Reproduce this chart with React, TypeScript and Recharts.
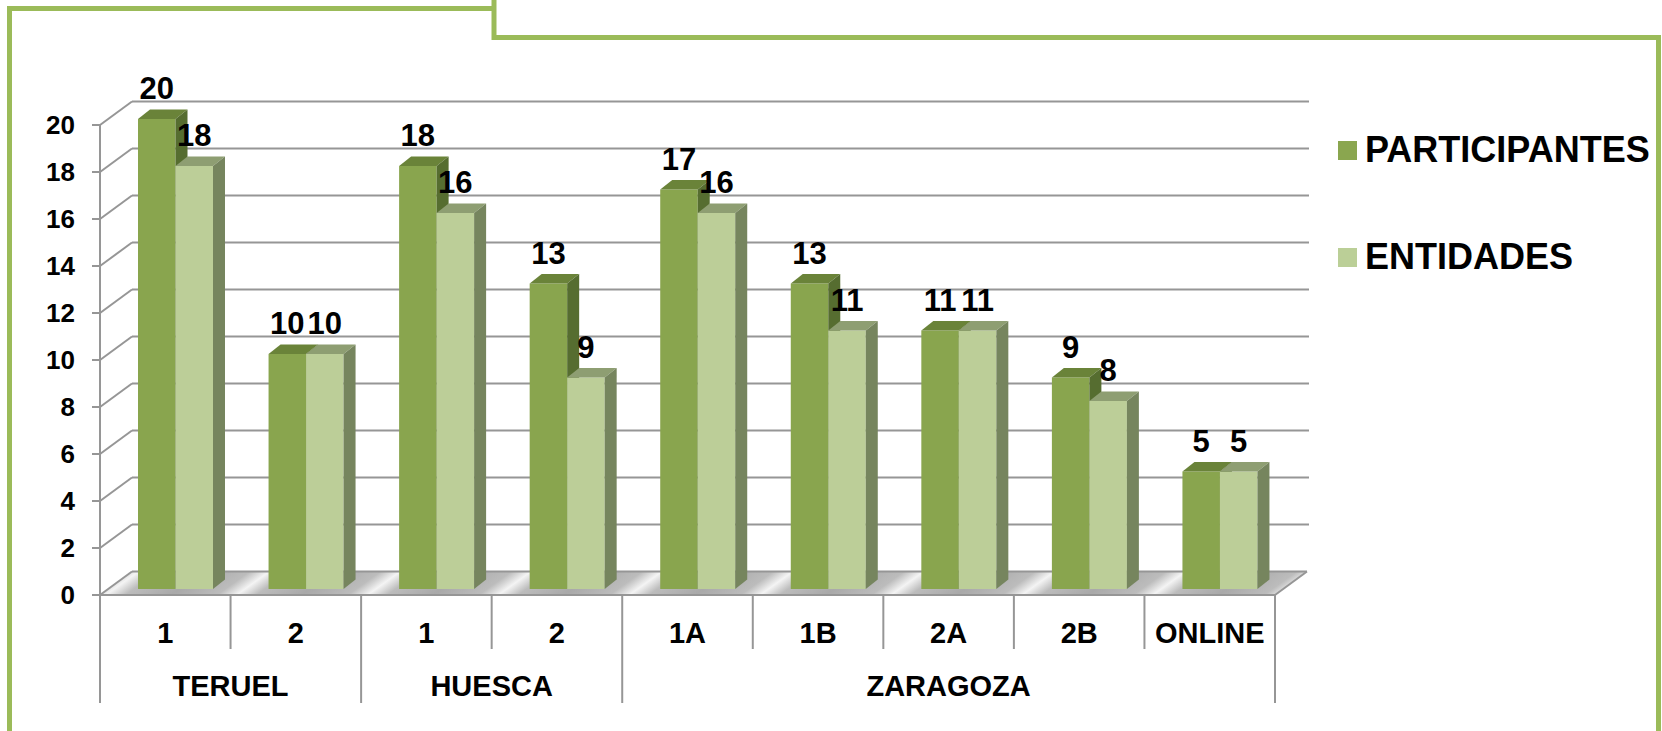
import { BarChart, Bar, XAxis, YAxis, CartesianGrid } from 'recharts'

const CATEGORIES = ['1', '2', '1', '2', '1A', '1B', '2A', '2B', 'ONLINE']
const GROUPS = ['TERUEL', 'TERUEL', 'HUESCA', 'HUESCA', 'ZARAGOZA', 'ZARAGOZA', 'ZARAGOZA', 'ZARAGOZA', 'ZARAGOZA']
const PARTICIPANTES = [20, 10, 18, 13, 17, 13, 11, 9, 5]
const ENTIDADES = [18, 10, 16, 9, 16, 11, 11, 8, 5]
const Y_TICKS = [0, 2, 4, 6, 8, 10, 12, 14, 16, 18, 20]

const data = CATEGORIES.map((cat, i) => ({
  key: `${GROUPS[i]} ${cat}`,
  cat,
  group: GROUPS[i],
  participantes: PARTICIPANTES[i],
  entidades: ENTIDADES[i],
}))

const W = 1662
const H = 731
const PLOT_LEFT = 100
const PLOT_RIGHT = 1275
const PLOT_TOP = 125
const PLOT_BOTTOM = 595
const BAND = (PLOT_RIGHT - PLOT_LEFT) / CATEGORIES.length

// depth of the back wall and of the bars
const WALL_DX = 32
const WALL_DY = 23.5
const BAR_DX = 10
const BAR_DY = -6
const BOX_DX = 12
const BOX_DY = 9.5

const FONT = "'Liberation Sans', Arial, sans-serif"
const GRID = '#969696'

const makeBox = (key: string, front: string, top: string, side: string) => (props: any) => {
  const { x, y, width, height, payload } = props
  if (width == null || height == null) return null
  const fx = x + BAR_DX
  const fy = y + BAR_DY
  const r = fx + width
  const b = fy + height
  return (
    <g>
      <rect x={fx} y={fy} width={width} height={height} fill={front} />
      <polygon
        points={`${fx},${fy} ${r},${fy} ${r + BOX_DX},${fy - BOX_DY} ${fx + BOX_DX},${fy - BOX_DY}`}
        fill={top}
      />
      <polygon
        points={`${r},${fy} ${r + BOX_DX},${fy - BOX_DY} ${r + BOX_DX},${b - BOX_DY} ${r},${b}`}
        fill={side}
      />
      <text
        x={fx + width / 2}
        y={fy - 20}
        textAnchor='middle'
        fontFamily={FONT}
        fontWeight='bold'
        fontSize={31}
        fill='#000'
      >
        {payload[key]}
      </text>
    </g>
  )
}

const darkBox = makeBox('participantes', '#89A54E', '#6A8339', '#566D30')
const lightBox = makeBox('entidades', '#BCCE98', '#8E9E72', '#76855E')

function GridLine(props: any) {
  const { x1, x2, y1 } = props
  const y = y1
  if (Math.abs(y - PLOT_BOTTOM) < 0.5) {
    return (
      <g>
        <polygon
          points={`${x1},${y} ${x2},${y} ${x2 + WALL_DX},${y - WALL_DY} ${x1 + WALL_DX},${y - WALL_DY}`}
          fill='url(#floorFill)'
        />
        <line x1={x1 + WALL_DX} y1={y - WALL_DY} x2={x2 + WALL_DX} y2={y - WALL_DY} stroke={GRID} strokeWidth={2} />
        <line x1={x1} y1={y} x2={x1 + WALL_DX} y2={y - WALL_DY} stroke={GRID} strokeWidth={2} />
        <line x1={x2} y1={y} x2={x2 + WALL_DX} y2={y - WALL_DY} stroke={GRID} strokeWidth={2} />
        <line x1={x1} y1={y} x2={x2} y2={y} stroke={GRID} strokeWidth={2} />
      </g>
    )
  }
  return (
    <g>
      <line x1={x1} y1={y} x2={x1 + WALL_DX} y2={y - WALL_DY} stroke={GRID} strokeWidth={2} />
      <line x1={x1 + WALL_DX} y1={y - WALL_DY} x2={x2 + WALL_DX + 2} y2={y - WALL_DY} stroke={GRID} strokeWidth={2} />
    </g>
  )
}

function CategoryTick(props: any) {
  const { x, payload } = props
  const index = props.index ?? payload?.index ?? 0
  const left = x - BAND / 2
  const groupStart = index === 0 || GROUPS[index - 1] !== GROUPS[index]
  const isLast = index === CATEGORIES.length - 1
  let groupLabel = null
  if (groupStart) {
    let count = 0
    while (GROUPS[index + count] === GROUPS[index]) count++
    groupLabel = (
      <text
        x={left + (count * BAND) / 2}
        y={686}
        dy='0.36em'
        textAnchor='middle'
        fontFamily={FONT}
        fontWeight='bold'
        fontSize={29}
        fill='#000'
      >
        {GROUPS[index]}
      </text>
    )
  }
  return (
    <g>
      <line x1={left} y1={PLOT_BOTTOM} x2={left} y2={groupStart ? 703 : 649} stroke={GRID} strokeWidth={2} />
      {isLast && <line x1={x + BAND / 2} y1={PLOT_BOTTOM} x2={x + BAND / 2} y2={703} stroke={GRID} strokeWidth={2} />}
      <text x={x} y={633} dy='0.36em' textAnchor='middle' fontFamily={FONT} fontWeight='bold' fontSize={29} fill='#000'>
        {CATEGORIES[index]}
      </text>
      {groupLabel}
    </g>
  )
}

function LegendBox() {
  const items = [
    { label: 'PARTICIPANTES', color: '#8AA64F', cy: 150 },
    { label: 'ENTIDADES', color: '#BBCF97', cy: 257 },
  ]
  return (
    <>
      {items.map((it) => (
        <div
          key={it.label}
          style={{
            position: 'absolute',
            left: 1338,
            top: it.cy - 22,
            height: 44,
            display: 'flex',
            alignItems: 'center',
            fontFamily: FONT,
            fontWeight: 'bold',
            fontSize: 36,
            color: '#000',
            whiteSpace: 'nowrap',
          }}
        >
          <span style={{ width: 19, height: 19, background: it.color, marginRight: 8, display: 'inline-block' }} />
          {it.label}
        </div>
      ))}
    </>
  )
}

export default function App() {
  return (
    <div style={{ position: 'relative', width: W, height: H, background: '#fff', overflow: 'hidden' }}>
      <style>{'body{margin:0}'}</style>
      <svg width={W} height={H} style={{ position: 'absolute', left: 0, top: 0 }}>
        <polyline points={`9.5,${H} 9.5,8.5 494,8.5`} fill='none' stroke='#9BBB59' strokeWidth={5} />
        <polyline points={`494,0 494,37.5 1658.5,37.5 1658.5,${H}`} fill='none' stroke='#9BBB59' strokeWidth={5} />
      </svg>
      <div style={{ position: 'absolute', left: 0, top: 0 }}>
        <BarChart
          width={W}
          height={H}
          data={data}
          margin={{ top: PLOT_TOP, right: W - PLOT_RIGHT, bottom: H - PLOT_BOTTOM - 30, left: PLOT_LEFT - 60 }}
          barGap={0}
        >
          <defs>
            <linearGradient id='floorFill' gradientUnits='userSpaceOnUse' x1={57} y1={583} x2={101.5} y2={645} spreadMethod='repeat'>
              <stop offset='0' stopColor='#a9a9a9' />
              <stop offset='0.35' stopColor='#bcbcbc' />
              <stop offset='0.5' stopColor='#f4f4f4' />
              <stop offset='0.65' stopColor='#bcbcbc' />
              <stop offset='1' stopColor='#a9a9a9' />
            </linearGradient>
          </defs>
          <CartesianGrid vertical={false} horizontal={(p: any) => <GridLine key={p.key} {...p} />} />
          <XAxis
            dataKey='key'
            height={30}
            interval={0}
            axisLine={false}
            tickLine={false}
            tick={(p: any) => <CategoryTick key={p.index} {...p} />}
          />
          <YAxis
            width={60}
            domain={[0, 20]}
            ticks={Y_TICKS}
            interval={0}
            axisLine={{ stroke: GRID, strokeWidth: 2 }}
            tickLine={{ stroke: GRID, strokeWidth: 2 }}
            tickSize={8}
            tickMargin={17}
            tick={{ fontSize: 26, fontWeight: 'bold', fill: '#000', fontFamily: FONT }}
          />
          <Bar dataKey='participantes' barSize={37.5} shape={darkBox} isAnimationActive={false} />
          <Bar dataKey='entidades' barSize={37.5} shape={lightBox} isAnimationActive={false} />
        </BarChart>
      </div>
      <LegendBox />
    </div>
  )
}
